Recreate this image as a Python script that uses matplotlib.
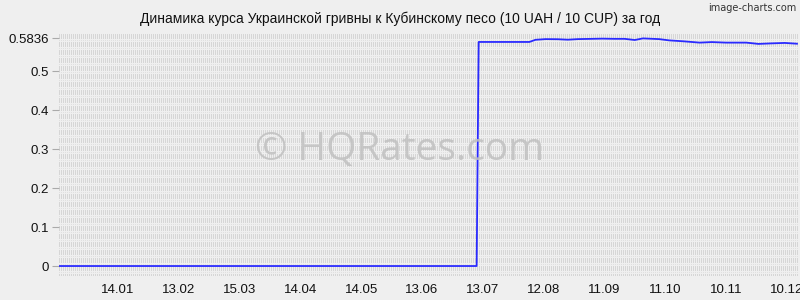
import matplotlib
matplotlib.use("Agg")
import matplotlib.pyplot as plt
import numpy as np
import pandas as pd

plt.rcParams['font.family'] = ['Liberation Sans', 'DejaVu Sans']

title = "Динамика курса Украинской гривны к Кубинскому песо (10 UAH / 10 CUP) за год"

dates = ["2014-12-16", "2015-01-01", "2015-02-01", "2015-03-01", "2015-04-01",
         "2015-05-01", "2015-06-01", "2015-07-01", "2015-07-10",
         "2015-07-11", "2015-08-05", "2015-08-08", "2015-08-13", "2015-08-19",
         "2015-08-24", "2015-08-29", "2015-09-10", "2015-09-16", "2015-09-21",
         "2015-09-26", "2015-09-30", "2015-10-08", "2015-10-13", "2015-10-20",
         "2015-10-28", "2015-11-03", "2015-11-10", "2015-11-20", "2015-11-26",
         "2015-12-02", "2015-12-09", "2015-12-15"]
values = [0, 0, 0, 0, 0,
          0, 0, 0, 0,
          0.5745, 0.5745, 0.5800, 0.5818, 0.5815,
          0.5803, 0.5818, 0.5830, 0.5825, 0.5825,
          0.5795, 0.5836, 0.5818, 0.5785, 0.5762,
          0.5728, 0.5742, 0.5728, 0.5728, 0.5695,
          0.5708, 0.5720, 0.5700]

ytick_vals = [0, 0.1, 0.2, 0.3, 0.4, 0.5, 0.5836]
ytick_labels = ["0", "0.1", "0.2", "0.3", "0.4", "0.5", "0.5836"]
xtick_dates = ["2015-01-14", "2015-02-13", "2015-03-15", "2015-04-14", "2015-05-14",
               "2015-06-13", "2015-07-13", "2015-08-12", "2015-09-11", "2015-10-11",
               "2015-11-10", "2015-12-10"]
xtick_labels = ["14.01", "13.02", "15.03", "14.04", "14.05", "13.06",
                "13.07", "12.08", "11.09", "11.10", "10.11", "10.12"]

bg = "#efefef"
W, H = 800, 300
fig = plt.figure(figsize=(8, 3), dpi=100, facecolor=bg)
ax = fig.add_axes([59/W, 24/H, 740/W, 242/H])
ax.set_facecolor("none")

# decorative background texture (pixel-aligned, like the original renderer)
th, tw = 242, 740
rr, cc = np.mgrid[0:th, 0:tw]
tex = np.full((th, tw, 3), 0xef / 255.0)
bars = (cc % 2 == 0) & ((rr % 8) < 5)
tex[bars] = 0xd6 / 255.0
dots = (cc % 2 == 0) & ((rr % 8) == 6)
tex[dots] = 0xe0 / 255.0
fig.figimage(tex, xo=59, yo=24, origin='upper', zorder=-1)

x = pd.to_datetime(dates)
ax.plot(x, values, color="#2a2aff", lw=1.3, zorder=3)

ax.set_xlim(pd.Timestamp("2014-12-16"), pd.Timestamp("2015-12-16"))
ax.set_ylim(-0.0256, 0.5949)

ax.set_yticks(ytick_vals)
ax.set_yticklabels(ytick_labels, fontsize=9.5, color="#111111")
ax.set_xticks(pd.to_datetime(xtick_dates))
ax.set_xticklabels(xtick_labels, fontsize=9.5, color="#111111")
ax.tick_params(axis='y', length=5, color="#aaaaaa", pad=2)
ax.tick_params(axis='x', length=0, pad=6)
for s in ax.spines.values():
    s.set_visible(False)

fig.text(0.5, 1 - 19/H, title, ha='center', va='center', fontsize=10, color="#111111")
fig.text(0.995, 1 - 8/H, "image-charts.com", ha='right', va='center',
         fontsize=7, color="#333333", family="DejaVu Sans")
fig.text(0.5, (H - 160) / H, "© HQRates.com", ha='center', va='baseline',
         fontsize=28, color="#c0c0c0", alpha=0.85, zorder=2, family="Open Sans")

fig.savefig("out.png", dpi=100, facecolor=bg)
